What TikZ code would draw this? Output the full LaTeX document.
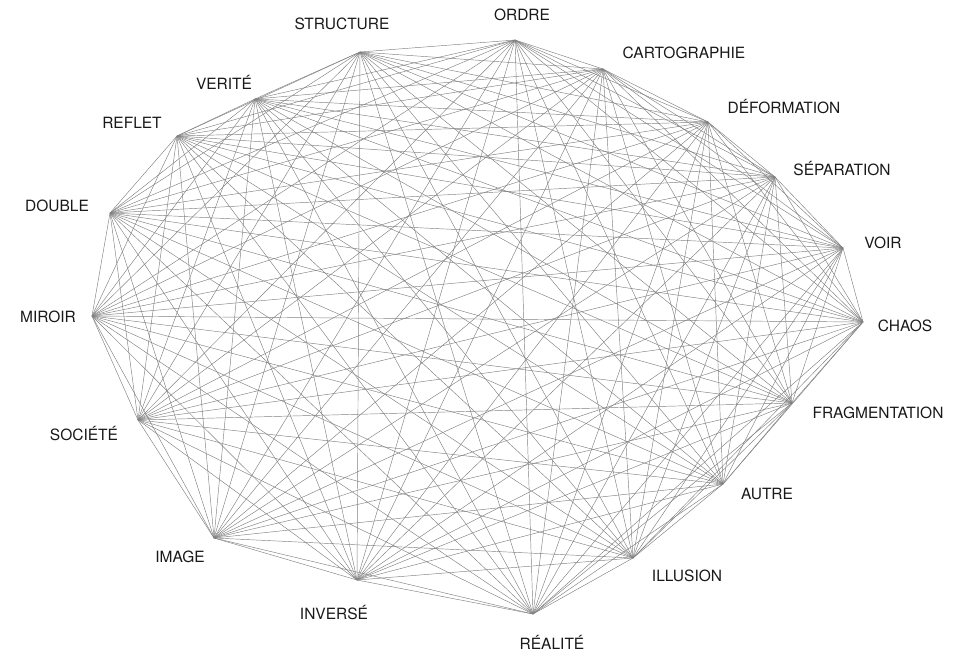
\documentclass[tikz,border=0pt]{standalone}
\usepackage{fontspec}
\setmainfont{TeX Gyre Heros}
\begin{document}
\begin{tikzpicture}[x=1pt,y=-1pt,
  edge/.style={draw=black!50,line width=0.45pt},
  lbl/.style={font=\fontsize{15.5}{18}\selectfont,text=black!90,inner sep=0pt}]
\useasboundingbox (0,0) rectangle (971,656);
% vertices
\coordinate (n1) at (515,40);
\coordinate (n2) at (603,69);
\coordinate (n3) at (708,122);
\coordinate (n4) at (775,177);
\coordinate (n5) at (843,248);
\coordinate (n6) at (863,322);
\coordinate (n7) at (792,403);
\coordinate (n8) at (723,484);
\coordinate (n9) at (633,558);
\coordinate (n10) at (533,614);
\coordinate (n11) at (357,580);
\coordinate (n12) at (214,538);
\coordinate (n13) at (138,420);
\coordinate (n14) at (92,316);
\coordinate (n15) at (110,213);
\coordinate (n16) at (177,136);
\coordinate (n17) at (255,99);
\coordinate (n18) at (360,52);
% edges
\foreach \i in {1,...,17}{
  \pgfmathtruncatemacro{\s}{\i+1}
  \foreach \j in {\s,...,18}{
    \draw[edge] (n\i) -- (n\j);
  }
}
% labels
\node[lbl] (l1) at (522,15) {ORDRE};
\node[lbl] (l2) at (684,53) {CARTOGRAPHIE};
\node[lbl] (l3) at (784,107) {DÉFORMATION};
\node[lbl] (l4) at (842,169) {SÉPARATION};
\node[lbl] (l5) at (883,243) {VOIR};
\node[lbl] (l6) at (905,326) {CHAOS};
\node[lbl] (l7) at (878,413) {FRAGMENTATION};
\node[lbl] (l8) at (767,494) {AUTRE};
\node[lbl] (l9) at (687,576) {ILLUSION};
\node[lbl] (l10) at (552,642) {RÉALITÉ};
\node[lbl] (l11) at (334,613) {INVERSÉ};
\node[lbl] (l12) at (180,557) {IMAGE};
\node[lbl] (l13) at (84,434) {SOCIÉTÉ};
\node[lbl] (l14) at (48,317) {MIROIR};
\node[lbl] (l15) at (57,206) {DOUBLE};
\node[lbl] (l16) at (132,123) {REFLET};
\node[lbl] (l17) at (224,82) {VERITÉ};
\node[lbl] (l18) at (342,24) {STRUCTURE};
\end{tikzpicture}
\end{document}
